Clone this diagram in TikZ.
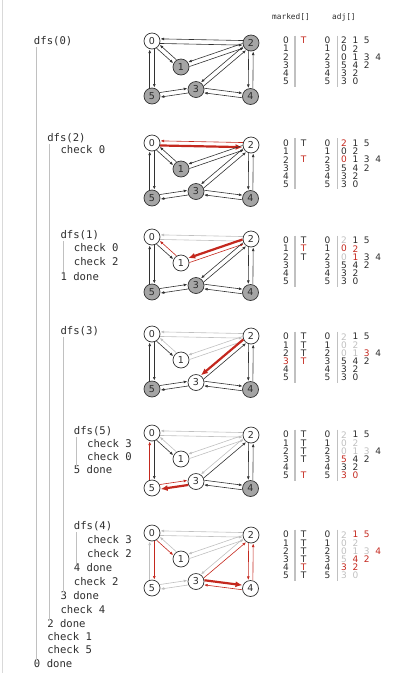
\documentclass[tikz,border=0pt]{standalone}
\usepackage{fontspec}
\setmainfont{DejaVu Sans}
\setsansfont{DejaVu Sans}
\setmonofont{DejaVu Sans Mono}
\usetikzlibrary{arrows.meta,calc}
\definecolor{traceInk}{RGB}{45,45,45}
\definecolor{dfsRed}{RGB}{196,40,30}
\definecolor{edgeDark}{RGB}{50,50,50}
\definecolor{edgeLight}{RGB}{192,192,192}
\definecolor{unmarkedFill}{RGB}{165,165,165}

% one step of the trace: graph (#2 = y of vertex 0) and table (#3 = y of row 0)
% #4 = marked state per vertex, #5 = state of each adj[] entry / directed edge
\newcommand{\panel}[5]{%
  \foreach \vx/\dx/\dy in {0/0/0,1/29/26,2/99/2,3/44/48.5,4/98.5/55.5,5/0/55}{
    \pgfmathtruncatemacro\mstate{{#4}[\vx]}
    \node[vtx,vf\mstate] (#1\vx) at (152+\dx,#2+\dy) {\vx};
    \node[cell,ix\mstate] (#1i\vx) at (286,#3+8.2*\vx) {\vx};
    \ifnum\mstate>0 \node[cell,mk\mstate] (#1m\vx) at (303.5,#3+8.2*\vx) {T};\fi
    \node[cell] (#1j\vx) at (327.5,#3+8.2*\vx) {\vx};
  }
  \draw[bar] (295,#3-5) -- (295,#3+46);
  \draw[bar] (337.7,#3-5) -- (337.7,#3+46);
  \foreach \ua/\ub/\rot/\col [count=\idx from 0] in
    {0/2/-90/0,0/1/-90/1,0/5/90/2,1/0/-90/0,1/2/-90/1,2/0/-90/0,2/1/-90/1,2/3/-90/2,
     2/4/-90/3,3/5/90/0,3/4/90/1,3/2/-90/2,4/3/90/0,4/2/-90/1,5/3/90/0,5/0/90/1}{
    \pgfmathtruncatemacro\estate{{#5}[\idx]}
    \pgfmathtruncatemacro\back{-\rot}
    \draw[e\estate] ($(#1\ua)!2.3pt!\rot:(#1\ub)$) -- ($(#1\ub)!2.3pt!\back:(#1\ua)$);
    \node[cell,a\estate] (#1a\ua\col) at (344+11.4*\col,#3+8.2*\ua) {\ub};
  }
}

\begin{document}
\begin{tikzpicture}[x=1pt,y=-1pt,
  vtx/.style={circle,draw=edgeDark,line width=0.7pt,minimum size=16pt,inner sep=0pt,
    font=\sffamily\fontsize{9.5}{9.5}\selectfont,text=traceInk},
  vf0/.style={fill=unmarkedFill},
  vf1/.style={fill=white},
  vf2/.style={fill=white},
  vf3/.style={fill=white},
  link/.style={line width=0.6pt,shorten <=8.2pt,shorten >=8.4pt,
    -{Latex[length=3.6pt,width=2.8pt]}},
  e0/.style={link,draw=edgeDark},
  e1/.style={link,draw=edgeLight},
  e2/.style={link,draw=dfsRed},
  e3/.style={link,draw=dfsRed,line width=2.2pt,-{Latex[length=7pt,width=6pt]}},
  cell/.style={font=\sffamily\fontsize{9}{9}\selectfont,text=traceInk,inner sep=0.5pt},
  a0/.style={},
  a1/.style={text=edgeLight},
  a2/.style={text=dfsRed},
  a3/.style={text=dfsRed},
  ix0/.style={}, ix1/.style={}, ix2/.style={},
  ix3/.style={text=dfsRed},
  mk1/.style={},
  mk2/.style={text=dfsRed},
  mk3/.style={text=dfsRed},
  bar/.style={draw=edgeLight,line width=1.1pt},
  rail/.style={draw=edgeLight,line width=1pt},
  trace/.style={anchor=west,font=\ttfamily\fontsize{10.6}{12}\selectfont,text=traceInk,
    inner sep=0.5pt,text height=7.5pt,text depth=2pt},
  head/.style={anchor=west,font=\ttfamily\fontsize{7.8}{9}\selectfont,text=traceInk,inner sep=0.5pt}
]
  \useasboundingbox (0,0) rectangle (395,673);
  \draw[draw=black!15,line width=0.8pt] (2.5,0) -- (2.5,673);

  % function-call trace
  \foreach \nm/\lv/\yy/\txt in {
      dfs0/0/41.7/dfs(0), dfs2/1/138.3/dfs(2), c20/2/150.7/check 0,
      dfs1/2/236/dfs(1), c10/3/249/check 0, c12/3/263/check 2, done1/2/277.3/1 done,
      dfs3/2/332/dfs(3), dfs5/3/432/dfs(5), c53/4/445/check 3, c50/4/458/check 0,
      done5/3/471/5 done, dfs4/3/527/dfs(4), c43/4/541/check 3, c42/4/555/check 2,
      done4/3/569/4 done, c32/3/583/check 2, done3/2/597/3 done, c24/2/611/check 4,
      done2/1/625/2 done, c01/1/638/check 1, c05/1/651/check 5, done0/0/665/0 done}
    \node[trace] (\nm) at (33.3+13.3*\lv,\yy) {\txt};
  \foreach \a/\b in {dfs0/done0,dfs2/done2,dfs1/done1,dfs3/done3,dfs5/done5,dfs4/done4}
    \draw[rail] ([xshift=3.2pt]\a.south west) -- ([xshift=3.2pt]\b.north west);

  % table headers
  \node[head] (markedHead) at (271.5,17) {marked[]};
  \node[head] (adjHead) at (331.5,17) {adj[]};

  % the six snapshots
  \panel{ga}{41}{40.5}{2,0,0,0,0,0}{0,0,0,0,0,0,0,0,0,0,0,0,0,0,0,0}
  \panel{gb}{143}{143.3}{1,0,2,0,0,0}{3,0,0,0,0,2,0,0,0,0,0,0,0,0,0,0}
  \panel{gc}{237}{240.5}{1,2,1,0,0,0}{1,0,0,2,2,1,3,0,0,0,0,0,0,0,0,0}
  \panel{gd}{334}{336.7}{1,1,1,3,0,0}{1,0,0,1,1,1,1,3,0,0,0,0,0,0,0,0}
  \panel{ge}{433}{434.7}{1,1,1,1,0,2}{1,0,0,1,1,1,1,1,0,3,0,0,0,0,2,2}
  \panel{gf}{533}{534.7}{1,1,1,1,2,1}{1,2,2,1,1,1,1,1,2,1,3,2,2,2,1,1}
\end{tikzpicture}
\end{document}
